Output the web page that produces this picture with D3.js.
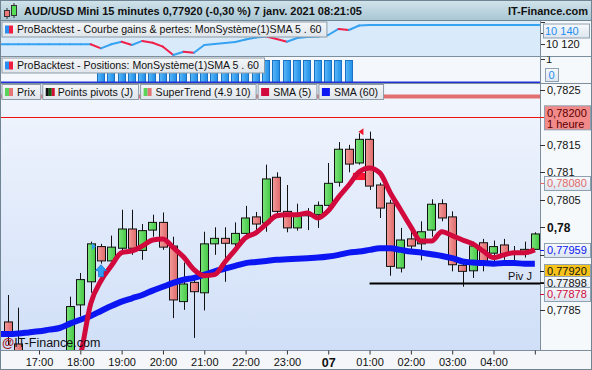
<!DOCTYPE html>
<html><head><meta charset="utf-8">
<script src="https://cdn.jsdelivr.net/npm/d3@7"></script>
<style>body{margin:0;background:#fff;}svg{display:block;font-family:"Liberation Sans",Arial,sans-serif;}</style>
</head><body><svg id="c" width="592" height="370"></svg>
<script>
// ---------------- DATA ----------------
const times = ["16:15","16:30","16:45","17:00","17:15","17:30","17:45","18:00","18:15","18:30","18:45","19:00","19:15","19:30","19:45","20:00","20:15","20:30","20:45","21:00","21:15","21:30","21:45","22:00","22:15","22:30","22:45","23:00","23:15","23:30","23:45","00:00","00:15","00:30","00:45","01:00","01:15","01:30","01:45","02:00","02:15","02:30","02:45","03:00","03:15","03:30","03:45","04:00","04:15","04:30","04:45","05:00"];
const opens  = [0.77828,0.77788,0.77772,0.77718,0.77742,0.77710,0.77750,0.77859,0.77901,0.77965,0.77939,0.77962,0.77997,0.77958,0.77995,0.78009,0.77966,0.77865,0.77900,0.77881,0.77970,0.77980,0.77970,0.77989,0.78019,0.78008,0.78091,0.78029,0.77999,0.78024,0.78023,0.78040,0.78082,0.78142,0.78117,0.78160,0.78077,0.78044,0.77926,0.77979,0.77970,0.77995,0.78043,0.78019,0.77931,0.77921,0.77972,0.77953,0.77968,0.77952,0.77952,0.77960];
const highs  = [0.77877,0.77854,0.77775,0.77760,0.77765,0.77760,0.77874,0.77917,0.77974,0.77970,0.77985,0.78032,0.78032,0.78006,0.78023,0.78027,0.77983,0.77936,0.77905,0.77992,0.78000,0.78000,0.78009,0.78039,0.78028,0.78114,0.78100,0.78077,0.78043,0.78035,0.78047,0.78117,0.78155,0.78150,0.78171,0.78174,0.78081,0.78050,0.77999,0.77999,0.78011,0.78051,0.78051,0.78029,0.77935,0.77974,0.77979,0.77976,0.77979,0.77966,0.77974,0.77991];
const lows   = [0.77786,0.77760,0.77700,0.77690,0.77695,0.77700,0.77735,0.77838,0.77881,0.77934,0.77938,0.77956,0.77950,0.77941,0.77983,0.77959,0.77835,0.77850,0.77799,0.77849,0.77950,0.77901,0.77954,0.77983,0.77995,0.77992,0.78023,0.77991,0.77994,0.77995,0.77999,0.78038,0.78074,0.78100,0.78114,0.78068,0.78017,0.77912,0.77918,0.77959,0.77940,0.77983,0.78011,0.77920,0.77892,0.77908,0.77920,0.77932,0.77941,0.77938,0.77945,0.77959];
const closes = [0.77805,0.77772,0.77718,0.77742,0.77710,0.77750,0.77856,0.77905,0.77970,0.77939,0.77964,0.77997,0.77962,0.77994,0.78009,0.77964,0.77868,0.77897,0.77883,0.77970,0.77980,0.77971,0.77989,0.78017,0.78006,0.78088,0.78029,0.77999,0.78023,0.78021,0.78040,0.78080,0.78142,0.78115,0.78160,0.78075,0.78035,0.77929,0.77977,0.77966,0.77992,0.78042,0.78017,0.77932,0.77920,0.77966,0.77934,0.77965,0.77952,0.77953,0.77960,0.77988];
const sma5   = [null,null,null,null,null,null,0.77700,0.77765,0.77861,0.77903,0.77930,0.77954,0.77957,0.77966,0.77977,0.77979,0.77963,0.77946,0.77923,0.77912,0.77914,0.77937,0.77959,0.77981,0.77990,0.78006,0.78021,0.78023,0.78023,0.78026,0.78017,0.78030,0.78055,0.78077,0.78101,0.78108,0.78099,0.78063,0.78032,0.78001,0.77975,0.77975,0.77992,0.77985,0.77977,0.77970,0.77957,0.77945,0.77950,0.77954,0.77954,0.77959];
const sma60  = [0.77806,0.77807,0.77809,0.77811,0.77814,0.77817,0.77825,0.77832,0.77839,0.77848,0.77857,0.77865,0.77871,0.77877,0.77885,0.77892,0.77899,0.77905,0.77908,0.77914,0.77920,0.77925,0.77930,0.77935,0.77937,0.77939,0.77941,0.77942,0.77943,0.77944,0.77945,0.77947,0.77950,0.77954,0.77956,0.77959,0.77962,0.77962,0.77959,0.77956,0.77954,0.77951,0.77948,0.77944,0.77938,0.77936,0.77935,0.77934,0.77935,0.77935,0.77934,0.77934];
const equity = [10120,10120,10120,10120,10120,10120,10120,10120,10120,10116.4,10120,10122.3,10119.4,10123,10121.4,10117.9,10110.4,10113.4,10112.5,10119.4,10120.3,10121.2,10122,10124.3,10126,10127,10124.7,10122.3,10125.6,10126.5,10127,10128.3,10133.7,10132.8,10136.8,10137.2,10137.2,10137.2,10137.2,10137.2,10137.2,10137.2,10137.2,10137.2,10137.2,10137.2,10137.2,10137.2,10137.2,10137.2,10137.2,10137.2];
const positions = [0,0,0,0,0,0,0,0,0,1,1,1,1,1,1,1,1,1,1,1,1,1,1,1,1,1,1,1,1,1,1,1,1,1,0,0,0,0,0,0,0,0,0,0,0,0,0,0,0,0,0,0];
const priceTicks = [0.7785,0.7790,0.7795,0.7800,0.7805,0.7810,0.7815,0.7820,0.7825];
const equityTicks = [10110,10120,10130,10140];
const equityTickLabels = [10120];
const equityLast = 10140;
const superTrend = 0.78238;
const hourLine = 0.78200;
const pivotJ = 0.77898;
const pivotFromIndex = 35;
const priceBoxes = [
  {v:0.78200, label:"0,78200", sub:"1 heure", kind:"hour"},
  {v:0.78080, label:"0,78080", kind:"st"},
  {v:0.77959, label:"0,77959", kind:"sma60"},
  {v:0.77920, label:"0,77920", kind:"last"},
  {v:0.77898, label:"0,77898", kind:"piv"},
  {v:0.77878, label:"0,77878", kind:"sma5"}
];
const legendItems = ["Prix","Points pivots (J)","SuperTrend (4.9 10)","SMA (5)","SMA (60)"];
const titleText = "AUD/USD Mini 15 minutes 0,77920 (-0,30 %) 7 janv. 2021 08:21:05";
const buyIndex = 9, sellIndex = 35;

// ---------------- SETUP ----------------
const svg = d3.select('#c');
const PW = 540;
const defs = svg.append('defs');
function vgrad(id,c1,c2){const g=defs.append('linearGradient').attr('id',id).attr('x1',0).attr('y1',0).attr('x2',0).attr('y2',1);g.append('stop').attr('offset','0%').attr('stop-color',c1);g.append('stop').attr('offset','100%').attr('stop-color',c2);}
function hgrad(id,c1,c2){const g=defs.append('linearGradient').attr('id',id).attr('x1',0).attr('y1',0).attr('x2',1).attr('y2',0);g.append('stop').attr('offset','0%').attr('stop-color',c1);g.append('stop').attr('offset','100%').attr('stop-color',c2);}
vgrad('gTitle','#d2e4eb','#a9c7d5');
vgrad('gPrice','#f2f6fe','#d0dff7');
vgrad('gBtn','#f5f7f9','#dfe5eb');
vgrad('gBox','#f8fafc','#dbe4ee');
hgrad('gGreen','#7be47b','#45c945');
hgrad('gRed','#f39a9a','#df6a6a');
hgrad('gPos','#5cb8f8','#1f8ee8');
defs.append('clipPath').attr('id','clipPrice').append('rect').attr('x',0).attr('y',83.5).attr('width',PW).attr('height',266.5);
defs.append('clipPath').attr('id','clipP1').append('rect').attr('x',0).attr('y',20.5).attr('width',592).attr('height',35.5);
defs.append('clipPath').attr('id','clipP2').append('rect').attr('x',0).attr('y',56.5).attr('width',592).attr('height',26);

const parse = d3.timeParse('%Y-%m-%d %H:%M');
const dates = times.map(t => parse((+t.slice(0,2) >= 12 ? '2021-01-06 ' : '2021-01-07 ') + t));
const step = dates[1] - dates[0];
const x = d3.scaleTime().domain([new Date(+dates[0] - step*0.775), new Date(+dates[dates.length-1] + step*0.5)]).range([0, PW]);
const y = d3.scaleLinear().domain([0.77777, 0.782606]).range([350, 84]);
const yEq = d3.scaleLinear().domain([10110, 10140]).range([55.5, 21.9]);
const yPos = d3.scaleLinear().domain([0, 1]).range([82, 59.5]);
const bw = (x(dates[1]) - x(dates[0])) * 0.8;

// background
svg.append('rect').attr('width',592).attr('height',370).attr('fill','#f4f6f9');
// title bar
svg.append('rect').attr('width',592).attr('height',20).attr('fill','url(#gTitle)');
const ic = svg.append('g');
ic.append('line').attr('x1',7).attr('x2',7).attr('y1',8).attr('y2',19).attr('stroke','#333');
ic.append('rect').attr('x',4.5).attr('y',10.5).attr('width',5).attr('height',6).attr('fill','#e77').attr('stroke','#333');
ic.append('line').attr('x1',14).attr('x2',14).attr('y1',3).attr('y2',18).attr('stroke','#333');
ic.append('rect').attr('x',11.5).attr('y',5.5).attr('width',5).attr('height',10).attr('fill','#5d5').attr('stroke','#333');
svg.append('text').attr('x',24).attr('y',15).attr('font-size',11).attr('font-weight','bold').attr('fill','#111').text(titleText);
svg.append('text').attr('x',588).attr('y',15).attr('font-size',11).attr('font-weight','bold').attr('fill','#111').attr('text-anchor','end').text('IT-Finance.com');

// ---------------- PANEL 1: equity ----------------
svg.append('rect').attr('x',0).attr('y',20.5).attr('width',PW).attr('height',35.5).attr('fill','#d9eafa');
svg.append('rect').attr('x',PW).attr('y',20.5).attr('width',592-PW).attr('height',35.5).attr('fill','#f6f9fc');
const eqPts = [[x.domain()[0], equity[0]]].concat(dates.map((d,i)=>[d,equity[i]])).concat([[x.domain()[1], equity[equity.length-1]]]);
const gEq = svg.append('g').attr('clip-path','url(#clipP1)');
for (let i=0;i<eqPts.length-1;i++){
  const a=eqPts[i], b=eqPts[i+1];
  gEq.append('line').attr('x1',x(a[0])).attr('y1',yEq(a[1])).attr('x2',x(b[0])).attr('y2',yEq(b[1]))
    .attr('stroke', b[1] < a[1] ? '#f0204a' : '#36a2f2').attr('stroke-width',2).attr('stroke-linecap','round');
}
// equity axis
const gEqAx = svg.append('g').attr('clip-path','url(#clipP1)');
equityTicks.forEach(v=>{
  gEqAx.append('line').attr('x1',PW).attr('x2',PW+5).attr('y1',Math.round(yEq(v))+0.5).attr('y2',Math.round(yEq(v))+0.5).attr('stroke','#333');
});
equityTickLabels.forEach(v=>{
  gEqAx.append('text').attr('x',PW+6).attr('y',yEq(v)).attr('dy','0.35em').attr('font-size',11).attr('fill','#111').text(d3.format(',')(v).replace(',', ' '));
});
{
  const cy = Math.max(yEq(equityLast), 24 + 7);
  gEqAx.append('rect').attr('x',PW+3.5).attr('y',cy-7).attr('width',46).attr('height',14).attr('fill','url(#gBox)').attr('stroke','#8fa0b0');
  gEqAx.append('text').attr('x',PW+5).attr('y',cy).attr('dy','0.36em').attr('font-size',11).attr('fill','#1e8ef0').text(d3.format(',')(equityLast).replace(',', ' '));
}
// legend helper
function legendBox(xx, yy, text, icon){
  const g = svg.append('g');
  const t = g.append('text').attr('x',xx+15.5).attr('y',yy+11.5).attr('font-size',10.6).attr('fill','#111').text(text);
  const w = t.node().getComputedTextLength() + 20.5;
  g.insert('rect','text').attr('x',xx+0.5).attr('y',yy+0.5).attr('width',w).attr('height',15).attr('fill','url(#gBtn)').attr('stroke','#8d9ba6');
  icon(g, xx+3.5, yy+4);
  return w;
}
function iconBR(g,xx,yy){g.append('rect').attr('x',xx).attr('y',yy).attr('width',4).attr('height',8).attr('fill','#2a8ef0');g.append('rect').attr('x',xx+4).attr('y',yy).attr('width',4).attr('height',8).attr('fill','#f21c40');}
legendBox(1.5, 21.5, 'ProBacktest - Courbe gains & pertes: MonSystème(1)SMA 5 . 60', iconBR);

// ---------------- PANEL 2: positions ----------------
svg.append('line').attr('x1',0).attr('x2',592).attr('y1',56.5).attr('y2',56.5).attr('stroke','#7d8f9d');
svg.append('rect').attr('x',0).attr('y',57).attr('width',PW).attr('height',25).attr('fill','#f4f8fd');
svg.append('rect').attr('x',PW).attr('y',57).attr('width',592-PW).attr('height',25).attr('fill','#f6f9fc');
const gPos = svg.append('g').attr('clip-path','url(#clipP2)');
gPos.selectAll('rect.pos').data(positions.map((p,i)=>({p,d:dates[i]})).filter(o=>o.p>0)).join('rect')
  .attr('x',o=>Math.round(x(o.d)-bw/2)+0.5).attr('y',o=>Math.round(yPos(o.p))+0.5).attr('width',Math.round(bw)-1).attr('height',o=>yPos(0)-yPos(o.p))
  .attr('fill','url(#gPos)').attr('stroke','#1a72c4').attr('stroke-width',1);
svg.append('line').attr('x1',0).attr('x2',PW).attr('y1',yPos(0)+0.5).attr('y2',yPos(0)+0.5).attr('stroke','#2232d6').attr('stroke-width',2);
gPos.append('line').attr('x1',PW).attr('x2',PW+5).attr('y1',yPos(1)).attr('y2',yPos(1)).attr('stroke','#333');
gPos.append('text').attr('x',PW+6).attr('y',yPos(1)).attr('dy','0.35em').attr('font-size',11).attr('fill','#111').text('1');
gPos.append('rect').attr('x',PW+5.5).attr('y',68.5).attr('width',13).attr('height',13).attr('fill','url(#gBox)').attr('stroke','#8fa0b0');
gPos.append('text').attr('x',PW+8.5).attr('y',75).attr('dy','0.36em').attr('font-size',11).attr('fill','#1e8ef0').text('0');
legendBox(1.5, 57.5, 'ProBacktest - Positions: MonSystème(1)SMA 5 . 60', iconBR);

// ---------------- PANEL 3: price ----------------
svg.append('line').attr('x1',0).attr('x2',592).attr('y1',83.5).attr('y2',83.5).attr('stroke','#7d8f9d');
svg.append('rect').attr('x',0).attr('y',84).attr('width',PW).attr('height',266).attr('fill','url(#gPrice)');
svg.append('rect').attr('x',PW).attr('y',84).attr('width',592-PW).attr('height',266).attr('fill','#f6f9fc');
const gP = svg.append('g').attr('clip-path','url(#clipPrice)');
gP.append('line').attr('x1',0).attr('x2',PW).attr('y1',y(superTrend)).attr('y2',y(superTrend)).attr('stroke','#e27070').attr('stroke-width',4);
gP.append('line').attr('x1',0).attr('x2',PW).attr('y1',Math.round(y(hourLine))+0.5).attr('y2',Math.round(y(hourLine))+0.5).attr('stroke','#f01010').attr('stroke-width',1);
// candles
const cd = dates.map((d,i)=>({d,o:opens[i],h:highs[i],l:lows[i],c:closes[i]}));
const gc = gP.append('g');
gc.selectAll('line.w').data(cd).join('line').attr('class','w')
  .attr('x1',o=>Math.round(x(o.d))+0.5).attr('x2',o=>Math.round(x(o.d))+0.5)
  .attr('y1',o=>y(o.h)).attr('y2',o=>y(o.l)).attr('stroke','#111').attr('stroke-width',1);
gc.selectAll('rect.b').data(cd).join('rect').attr('class','b')
  .attr('x',o=>Math.round(x(o.d)-bw/2)+0.5).attr('width',Math.round(bw))
  .attr('y',o=>y(Math.max(o.o,o.c))).attr('height',o=>Math.max(1,Math.abs(y(o.o)-y(o.c))))
  .attr('fill',o=>o.c>=o.o?'url(#gGreen)':'url(#gRed)').attr('stroke','#111').attr('stroke-width',1);
// SMA60
const sma60Pts = [[x.domain()[0], sma60[0]]].concat(dates.map((d,i)=>[d,sma60[i]]));
gP.append('path').datum(sma60Pts).attr('fill','none').attr('stroke','#0b16f2').attr('stroke-width',6).attr('stroke-linejoin','round')
  .attr('d', d3.line().x(p=>x(p[0])).y(p=>y(p[1])).curve(d3.curveMonotoneX));
// SuperTrend flip patch
gP.append('rect').attr('x',x(dates[sellIndex-2])+4).attr('y',y(0.78099)).attr('width',x(dates[sellIndex-1])-x(dates[sellIndex-2])+2).attr('height',y(0.78086)-y(0.78099)).attr('fill','#ff1434');
// SMA5
gP.append('path').datum(dates.map((d,i)=>[d,sma5[i]]).filter(p=>p[1]!==null)).attr('fill','none').attr('stroke','#d2093d').attr('stroke-width',5).attr('stroke-linejoin','round')
  .attr('d', d3.line().x(p=>x(p[0])).y(p=>y(p[1])).curve(d3.curveMonotoneX));
// Pivot line
gP.append('line').attr('x1',x(dates[pivotFromIndex])).attr('x2',PW).attr('y1',y(pivotJ)).attr('y2',y(pivotJ)).attr('stroke','#000').attr('stroke-width',2);
gP.append('text').attr('x',PW-20).attr('y',y(pivotJ)-3).attr('font-size',11).attr('fill','#111').attr('text-anchor','middle').text('Piv J');
// signals
{
  const bx = x(dates[buyIndex]), by = y(lows[buyIndex]) + 1;
  gP.append('path').attr('d',`M${bx},${by} l5.5,6 h-3 v6 h-5 v-6 h-3 z`).attr('fill','#2d9cf4').attr('stroke','#1a78d0').attr('stroke-width',0.8);
  const tx = x(dates[buyIndex]) - bw/2 - 1, ty = y(opens[buyIndex]);
  gP.append('path').attr('d',`M${tx-4},${ty-3.5} l4,3.5 l-4,3.5 z`).attr('fill','#2d9cf4');
  const sx = x(dates[sellIndex]) - bw/2 - 2, sy = y(highs[sellIndex]);
  gP.append('path').attr('d',`M${sx},${sy-3.5} l-5,3.5 l5,3.5 z`).attr('fill','#f01a2e');
}
// watermark
{
  const wm = gP.append('text').attr('x',2).attr('y',347).attr('font-size',12.5).attr('fill','#111');
  wm.append('tspan').attr('fill','#a01818').attr('font-weight','bold').text('@');
  wm.append('tspan').text('IT-Finance.com');
}
// legend row
{
  let lx = 1.5;
  const icons = [
    (g,a,b)=>{g.append('rect').attr('x',a).attr('y',b).attr('width',4).attr('height',8).attr('fill','#59d459');g.append('rect').attr('x',a+4).attr('y',b).attr('width',4).attr('height',8).attr('fill','#e57575');},
    (g,a,b)=>{g.append('rect').attr('x',a).attr('y',b).attr('width',3).attr('height',8).attr('fill','#111');g.append('rect').attr('x',a+3).attr('y',b).attr('width',3).attr('height',8).attr('fill','#0b5e0b');g.append('rect').attr('x',a+6).attr('y',b).attr('width',3).attr('height',8).attr('fill','#d01030');},
    (g,a,b)=>{g.append('rect').attr('x',a).attr('y',b).attr('width',4).attr('height',8).attr('fill','#59d459');g.append('rect').attr('x',a+4).attr('y',b).attr('width',4).attr('height',8).attr('fill','#e57575');},
    (g,a,b)=>{g.append('rect').attr('x',a).attr('y',b).attr('width',8).attr('height',8).attr('fill','#d2093d');},
    (g,a,b)=>{g.append('rect').attr('x',a).attr('y',b).attr('width',8).attr('height',8).attr('fill','#0b16f2');}
  ];
  legendItems.forEach((t,i)=>{ const w = legendBox(lx, 84, t, icons[i]); lx += w + 2; });
}

// right price axis
svg.append('line').attr('x1',PW+0.5).attr('x2',PW+0.5).attr('y1',20).attr('y2',350).attr('stroke','#7d8f9d');
const gAx = svg.append('g');
priceTicks.forEach(v=>{
  const yy = Math.round(y(v))+0.5;
  gAx.append('line').attr('x1',PW).attr('x2',PW+5).attr('y1',yy).attr('y2',yy).attr('stroke','#333');
  // labels fully covered by a value box are not drawn (they are hidden in the reference)
  const covered = priceBoxes.some(b => Math.abs(y(b.v) - y(v)) < 9);
  if (!covered) {
    gAx.append('text').attr('x',PW+7).attr('y',y(v)).attr('dy','0.35em').attr('font-size', v===0.78?12:11)
      .attr('font-weight', v===0.78?'bold':'normal').attr('fill','#111').text(String(+v.toFixed(4)).replace('.', ','));
  }
});
const boxStyle = {
  hour:{fill:'#f28a8a', text:'#5a0000', lead:'#f01010'},
  st:{fill:'url(#gBox)', text:'#e06a6a', lead:'#e06a6a'},
  sma60:{fill:'url(#gBox)', text:'#0b16f2', lead:'#0b16f2'},
  last:{fill:'#f7c31a', text:'#111', lead:'#111'},
  piv:{fill:'url(#gBox)', text:'#111', lead:'#111'},
  sma5:{fill:'url(#gBox)', text:'#d2093d', lead:'#d2093d'}
};
priceBoxes.forEach(b=>{
  const st = boxStyle[b.kind];
  const yy = y(b.v);
  gAx.append('line').attr('x1',PW).attr('x2',PW+5).attr('y1',Math.round(yy)+0.5).attr('y2',Math.round(yy)+0.5).attr('stroke',st.lead);
  if (b.sub){
    gAx.append('rect').attr('x',PW+4.5).attr('y',yy-11.5).attr('width',46).attr('height',24).attr('fill',st.fill).attr('stroke','#8fa0b0');
    gAx.append('text').attr('x',PW+7).attr('y',yy-4).attr('dy','0.35em').attr('font-size',11).attr('fill',st.text).text(b.label);
    gAx.append('text').attr('x',PW+7).attr('y',yy+6.5).attr('dy','0.35em').attr('font-size',11).attr('fill',st.text).text(b.sub);
  } else {
    gAx.append('rect').attr('x',PW+4.5).attr('y',Math.round(yy)-6.5).attr('width',46).attr('height',14).attr('fill',st.fill).attr('stroke','#8fa0b0');
    gAx.append('text').attr('x',PW+7).attr('y',Math.round(yy)+0.5).attr('dy','0.36em').attr('font-size',11).attr('fill',st.text).text(b.label);
  }
});

// time axis
svg.append('line').attr('x1',0).attr('x2',592).attr('y1',350.5).attr('y2',350.5).attr('stroke','#7d8f9d');
const xAxis = d3.axisBottom(x).ticks(d3.timeHour.every(1)).tickSize(4).tickPadding(4)
  .tickFormat(d => d.getHours()===0 ? d3.timeFormat('%d')(d) : (d.getHours()===5 ? '' : d3.timeFormat('%H:%M')(d)));
const gX = svg.append('g').attr('transform','translate(0,350.5)').call(xAxis);
gX.select('.domain').remove();
gX.selectAll('line').attr('stroke','#333');
gX.selectAll('text').attr('font-size',11).attr('fill','#111').attr('font-family','"Liberation Sans",Arial,sans-serif');
gX.selectAll('.tick').filter(d=>d.getHours()===0).select('text').attr('font-weight','bold').attr('font-size',12.5);

// frame
svg.append('rect').attr('x',0.5).attr('y',0.5).attr('width',591).attr('height',369).attr('fill','none').attr('stroke','#6f8594');
svg.append('line').attr('x1',0).attr('x2',592).attr('y1',20.5).attr('y2',20.5).attr('stroke','#6f8594');
</script></body></html>
